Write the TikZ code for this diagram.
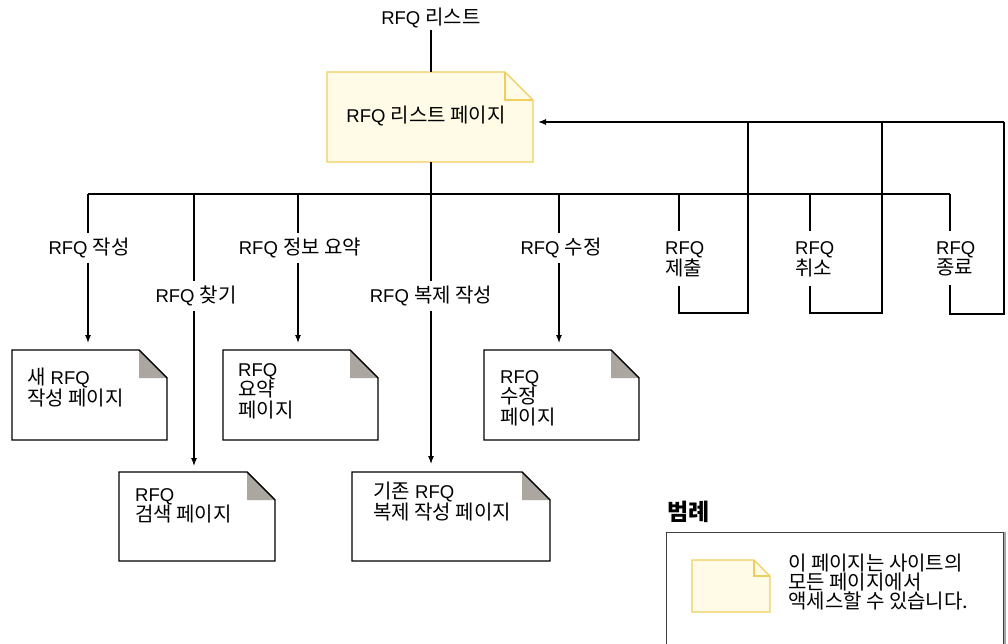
\documentclass[tikz,border=0pt]{standalone}
\usepackage{fontspec}
\setmainfont{Liberation Sans}
\newfontfamily\kr{Noto Sans CJK KR}
\usetikzlibrary{arrows.meta,calc}
\definecolor{notefill}{HTML}{FFFBE6}
\definecolor{noteline}{HTML}{F0CE5E}
\definecolor{foldgray}{HTML}{ABA6A0}
\newcommand{\K}[1]{{\kr\fontsize{20}{20.5}\selectfont #1}}
\newcommand{\notepage}[4]{%
  \draw[line width=1.1pt, draw=#4, fill=#3] (#1.north west) -- ([xshift=-#2pt]#1.north east) -- ([yshift=-#2pt]#1.north east) -- (#1.south east) -- (#1.south west) -- cycle;}
\newcommand{\graycorner}[2]{%
  \fill[foldgray] ([xshift=-#2pt]#1.north east) -- ([xshift=-#2pt,yshift=-#2pt]#1.north east) -- ([yshift=-#2pt]#1.north east) -- cycle;
  \draw[line width=1.1pt] ([xshift=-#2pt]#1.north east) -- ([yshift=-#2pt]#1.north east);}
\tikzset{
  pagebox/.style={rectangle, draw=none, inner sep=0pt, outer sep=0pt, anchor=north west},
  pagetext/.style={inner sep=0pt, anchor=north west, align=left, font=\fontsize{18.5}{20.5}\selectfont},
  lbl/.style={fill=white, inner xsep=2pt, inner ysep=5pt, font=\fontsize{18.5}{20.5}\selectfont},
  lbl2/.style={inner sep=0pt, anchor=north west, align=left, font=\fontsize{18.5}{20}\selectfont},
  conn/.style={line width=1.1pt, black},
  arr/.style={conn, -{Latex[length=8pt,width=6pt]}},
}
\begin{document}
\begin{tikzpicture}[x=1pt,y=-1pt]
\useasboundingbox (0,0) rectangle (1008,643);

% top label and main page
\node[font=\fontsize{18.5}{20}\selectfont, inner sep=2pt] (top) at (431,18) {RFQ \K{리스트}};
\node[pagebox, minimum width=206pt, minimum height=90pt] (m) at (327,72) {};
\notepage{m}{28}{notefill}{noteline}
\draw[line width=1.1pt, noteline] ([xshift=-28pt]m.north east) -- ([xshift=-28pt,yshift=-28pt]m.north east) -- ([yshift=-28pt]m.north east);
\node[font=\fontsize{18.5}{20}\selectfont, inner sep=0pt] (mt) at (426,116) {RFQ \K{리스트 페이지}};
\draw[conn] (top.south) -- (top.south |- m.north);

% child pages
\node[pagebox, minimum width=155pt, minimum height=90pt] (p1) at (12,350) {};
\node[pagebox, minimum width=156pt, minimum height=89pt] (p2) at (119,472) {};
\node[pagebox, minimum width=155pt, minimum height=90pt] (p3) at (223,350) {};
\node[pagebox, minimum width=198pt, minimum height=89pt] (p4) at (352,472) {};
\node[pagebox, minimum width=155pt, minimum height=90pt] (p5) at (484,350) {};
\foreach \p in {p1,p2,p3,p4,p5}{
  \notepage{\p}{28}{white}{black}
  \graycorner{\p}{28}
}
\node[pagetext] (p1t) at (27,368) {\K{새} RFQ\\\K{작성 페이지}};
\node[pagetext] (p2t) at (135,488) {RFQ\\\K{검색 페이지}};
\node[pagetext] (p3t) at (238,363) {RFQ\\\K{요약}\\\K{페이지}};
\node[pagetext] (p4t) at (373,482) {\K{기존} RFQ\\\K{복제 작성 페이지}};
\node[pagetext] (p5t) at (500,370) {RFQ\\\K{수정}\\\K{페이지}};

% bus
\coordinate (mb) at (431,162);
\coordinate (bl) at (88,194);
\coordinate (br) at (950,194);
\draw[conn] (bl) -- (br);
\coordinate (b2) at (194,194);
\coordinate (b3) at (298,194);
\coordinate (b5) at (559,194);
\coordinate (b6) at (679,194);
\coordinate (b7) at (810,194);

\draw[arr, shorten >=7pt] (bl) -- (bl |- p1.north);
\draw[arr, shorten >=6pt] (b2) -- (b2 |- p2.north);
\draw[arr, shorten >=7pt] (b3) -- (b3 |- p3.north);
\draw[arr, shorten >=8pt] (mb) -- (mb |- p4.north);
\draw[arr, shorten >=7pt] (b5) -- (b5 |- p5.north);

\node[lbl] (l1) at (89,248) {RFQ \K{작성}};
\node[lbl] (l2) at (196,296) {RFQ \K{찾기}};
\node[lbl] (l3) at (300,248) {RFQ \K{정보 요약}};
\node[lbl] (l4) at (431,296) {RFQ \K{복제 작성}};
\node[lbl] (l5) at (561,248) {RFQ \K{수정}};

% return loops
\coordinate (mr) at (538,122);
\coordinate (r3) at (1004,122);
\node[lbl2] (l6) at (665,241) {RFQ\\\K{제출}};
\node[lbl2] (l7) at (795,241) {RFQ\\\K{취소}};
\node[lbl2] (l8) at (936,241) {RFQ\\\K{종료}};
\draw[conn] (b6) -- ([yshift=10pt]b6 |- l6.north);
\draw[conn] ([yshift=-9pt]b6 |- l6.south) -- (679,313) -- (748,313) -- (748,122);
\draw[conn] (b7) -- ([yshift=10pt]b7 |- l7.north);
\draw[conn] ([yshift=-9pt]b7 |- l7.south) -- (810,313) -- (882,313) -- (882,122);
\draw[conn] (br) -- ([yshift=10pt]br |- l8.north);
\draw[conn] ([yshift=-9pt]br |- l8.south) -- (950,314) -- (1004,314) -- (r3);
\draw[arr] (r3) -- (mr);

% legend
\node[anchor=west, inner sep=0pt, font=\fontsize{23}{24}\selectfont\kr\bfseries] (lg) at (667,512) {범례};
\node[pagebox, minimum width=337pt, minimum height=120pt, draw=black!75, line width=1pt] (lb) at (666,532) {};
\draw[line width=2pt, black!35] ([xshift=2pt]lb.north east) -- ([xshift=2pt]lb.south east);
\node[pagebox, minimum width=78pt, minimum height=52pt] (ln) at (692,560) {};
\notepage{ln}{16}{notefill}{noteline}
\draw[line width=1.1pt, noteline] ([xshift=-16pt]ln.north east) -- ([xshift=-16pt,yshift=-16pt]ln.north east) -- ([yshift=-16pt]ln.north east);
\node[pagetext, font=\fontsize{18.5}{19}\selectfont] (lt) at (788,554) {\K{이 페이지는 사이트의}\\\K{모든 페이지에서}\\\K{액세스할 수 있습니다.}};
\end{tikzpicture}
\end{document}
